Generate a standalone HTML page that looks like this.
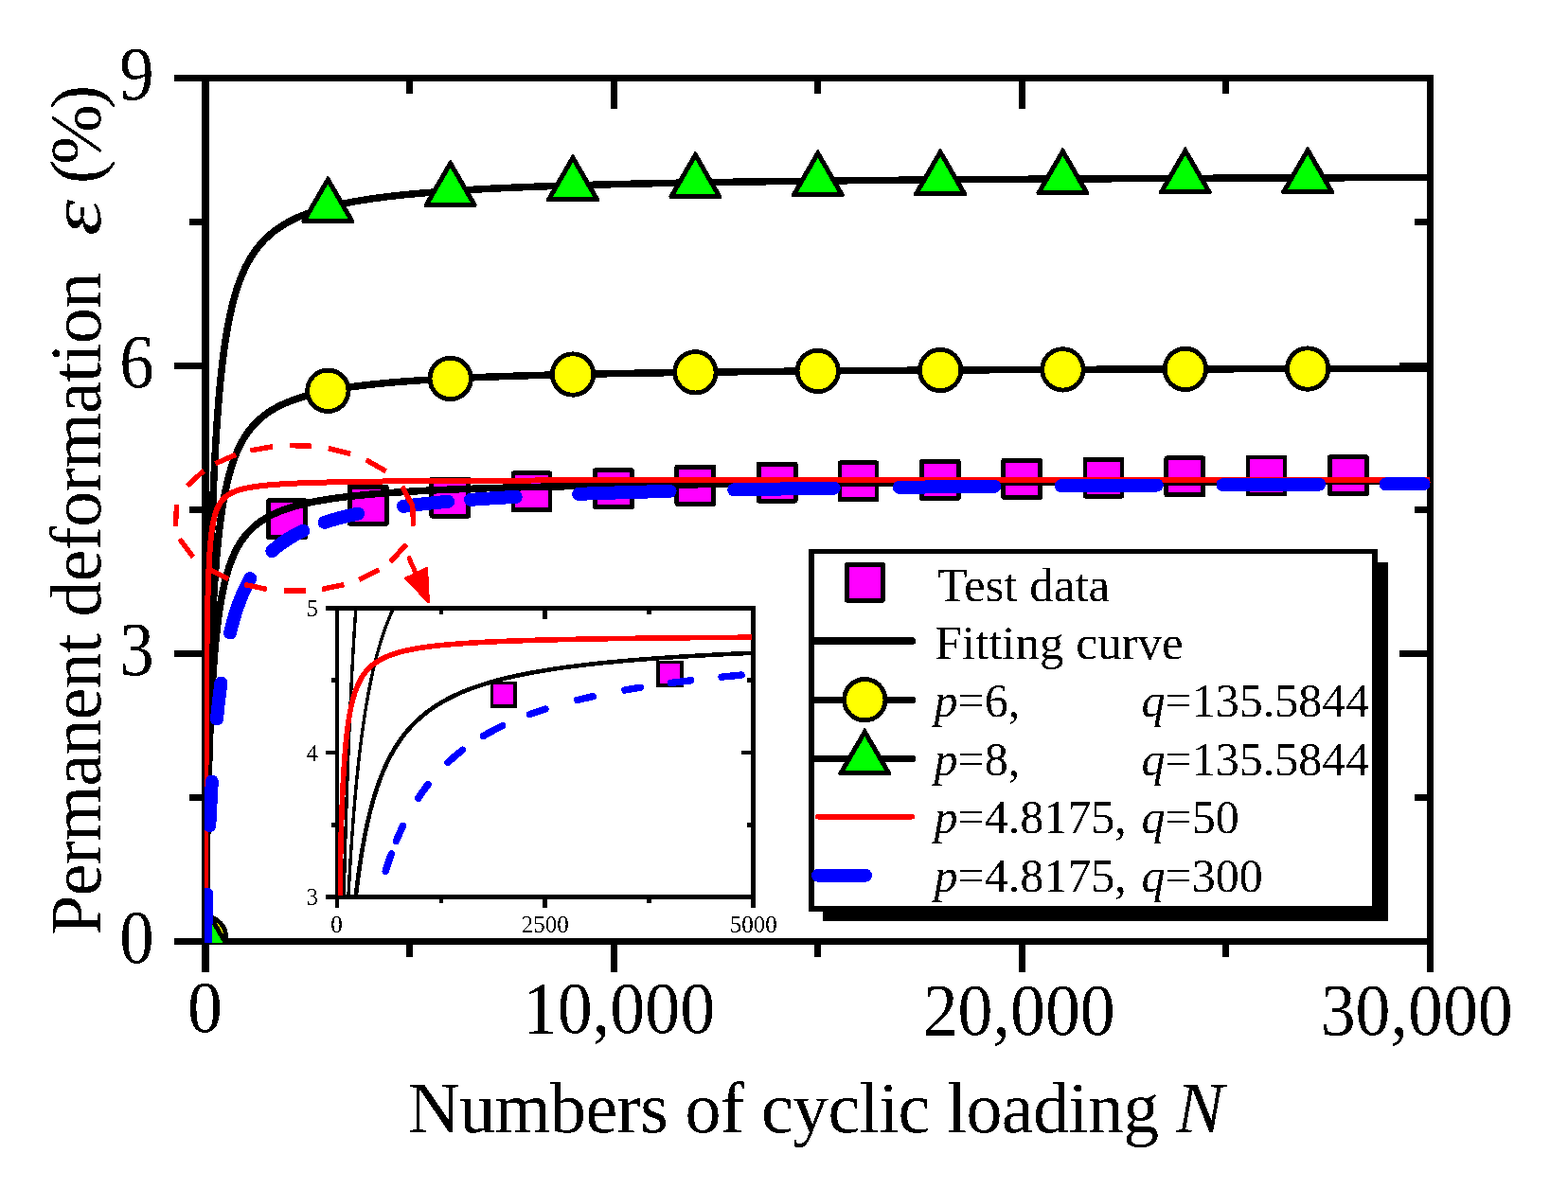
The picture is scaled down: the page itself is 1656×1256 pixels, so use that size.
<!DOCTYPE html><html><head><meta charset="utf-8"><title>Permanent deformation chart</title>
<style>html,body{margin:0;padding:0;background:#fff;}svg{display:block;}text{font-family:"Liberation Serif","Times New Roman",serif;fill:#000;filter:url(#bin);}</style></head><body>
<svg shape-rendering="crispEdges" width="1656" height="1256" viewBox="0 0 1656 1256">
<rect x="0" y="0" width="1656" height="1256" fill="#fff"/>
<defs><clipPath id="cm"><rect x="216" y="79" width="1295" height="917"/></clipPath><clipPath id="ci"><rect x="357" y="644" width="437" height="302"/></clipPath><filter id="bin" filterUnits="userSpaceOnUse" x="-3000" y="-3000" width="8000" height="8000" color-interpolation-filters="sRGB"><feComponentTransfer><feFuncA type="discrete" tableValues="0 1"/></feComponentTransfer></filter></defs>
<line x1="184.0" y1="82.5" x2="1514.0" y2="82.5" stroke="#000" stroke-width="7"/><line x1="184.0" y1="994.5" x2="1514.0" y2="994.5" stroke="#000" stroke-width="7"/><line x1="217" y1="79" x2="217" y2="1027" stroke="#000" stroke-width="8"/><line x1="1510.5" y1="79" x2="1510.5" y2="1027" stroke="#000" stroke-width="7"/><line x1="200.0" y1="842.50" x2="213" y2="842.50" stroke="#000" stroke-width="7"/><line x1="1507" y1="842.50" x2="1494.0" y2="842.50" stroke="#000" stroke-width="7"/><line x1="184.0" y1="690.50" x2="213" y2="690.50" stroke="#000" stroke-width="7"/><line x1="1507" y1="690.50" x2="1478.0" y2="690.50" stroke="#000" stroke-width="7"/><line x1="200.0" y1="538.50" x2="213" y2="538.50" stroke="#000" stroke-width="7"/><line x1="1507" y1="538.50" x2="1494.0" y2="538.50" stroke="#000" stroke-width="7"/><line x1="184.0" y1="386.50" x2="213" y2="386.50" stroke="#000" stroke-width="7"/><line x1="1507" y1="386.50" x2="1478.0" y2="386.50" stroke="#000" stroke-width="7"/><line x1="200.0" y1="234.50" x2="213" y2="234.50" stroke="#000" stroke-width="7"/><line x1="1507" y1="234.50" x2="1494.0" y2="234.50" stroke="#000" stroke-width="7"/><line x1="432.58" y1="998" x2="432.58" y2="1011.0" stroke="#000" stroke-width="7"/><line x1="432.58" y1="86" x2="432.58" y2="99.0" stroke="#000" stroke-width="7"/><line x1="648.17" y1="998" x2="648.17" y2="1027.0" stroke="#000" stroke-width="7"/><line x1="648.17" y1="86" x2="648.17" y2="115.0" stroke="#000" stroke-width="7"/><line x1="863.75" y1="998" x2="863.75" y2="1011.0" stroke="#000" stroke-width="7"/><line x1="863.75" y1="86" x2="863.75" y2="99.0" stroke="#000" stroke-width="7"/><line x1="1079.33" y1="998" x2="1079.33" y2="1027.0" stroke="#000" stroke-width="7"/><line x1="1079.33" y1="86" x2="1079.33" y2="115.0" stroke="#000" stroke-width="7"/><line x1="1294.92" y1="998" x2="1294.92" y2="1011.0" stroke="#000" stroke-width="7"/><line x1="1294.92" y1="86" x2="1294.92" y2="99.0" stroke="#000" stroke-width="7"/>
<g font-size="75">
<text transform="translate(162.6,1017.10) scale(0.97,1.06)" text-anchor="end">0</text>
<text transform="translate(162.6,713.10) scale(0.97,1.06)" text-anchor="end">3</text>
<text transform="translate(162.6,409.10) scale(0.97,1.06)" text-anchor="end">6</text>
<text transform="translate(162.6,105.10) scale(0.97,1.06)" text-anchor="end">9</text>
<text transform="translate(216.4,1090.3) scale(0.985,1.035)" text-anchor="middle">0</text>
<text transform="translate(653.5,1091.3) scale(0.985,1.035)" text-anchor="middle">10,000</text>
<text transform="translate(1076.2,1092.6) scale(0.985,1.035)" text-anchor="middle">20,000</text>
<text transform="translate(1496.2,1092.6) scale(0.985,1.035)" text-anchor="middle">30,000</text>
</g>
<text x="431" y="1196" font-size="76" textLength="861.6" lengthAdjust="spacing">Numbers of cyclic loading <tspan font-style="italic">N</tspan></text>
<text transform="translate(105.7,987.8) rotate(-90)" font-size="76" textLength="700.0" lengthAdjust="spacing">Permanent deformation</text>
<text transform="translate(105.7,249.0) rotate(-90) scale(1.270,1)" font-size="76" font-style="italic">&#949;</text>
<text transform="translate(105.7,194.2) rotate(-90)" font-size="76" textLength="104.4" lengthAdjust="spacing">(%)</text>
<g clip-path="url(#cm)">
<path d="M217.00,994.50 L217.02,992.27 L217.04,989.96 L217.07,987.58 L217.09,985.13 L217.12,982.59 L217.14,979.98 L217.17,977.29 L217.20,974.52 L217.23,971.66 L217.26,968.72 L217.29,965.69 L217.32,962.58 L217.36,959.37 L217.39,956.08 L217.43,952.69 L217.47,949.21 L217.51,945.64 L217.55,941.97 L217.60,938.20 L217.64,934.34 L217.69,930.38 L217.74,926.32 L217.79,922.17 L217.84,917.91 L217.90,913.56 L217.96,909.10 L218.02,904.55 L218.08,899.90 L218.14,895.15 L218.21,890.30 L218.28,885.36 L218.35,880.32 L218.43,875.18 L218.51,869.95 L218.59,864.63 L218.67,859.22 L218.76,853.73 L218.85,848.14 L218.95,842.48 L219.05,836.73 L219.15,830.90 L219.26,825.00 L219.37,819.03 L219.49,812.98 L219.61,806.88 L219.74,800.71 L219.87,794.48 L220.00,788.20 L220.14,781.87 L220.29,775.50 L220.44,769.08 L220.60,762.63 L220.77,756.15 L220.94,749.64 L221.12,743.11 L221.31,736.56 L221.50,730.00 L221.70,723.44 L221.91,716.87 L222.13,710.31 L222.36,703.75 L222.59,697.21 L222.84,690.69 L223.09,684.19 L223.36,677.72 L223.63,671.28 L223.92,664.88 L224.22,658.52 L224.53,652.21 L224.85,645.95 L225.19,639.75 L225.54,633.60 L225.90,627.52 L226.28,621.50 L226.67,615.55 L227.08,609.68 L227.50,603.88 L227.95,598.16 L228.41,592.52 L228.88,586.97 L229.38,581.51 L229.90,576.13 L230.44,570.84 L230.99,565.65 L231.58,560.55 L232.18,555.55 L232.81,550.64 L233.46,545.83 L234.14,541.11 L234.85,536.50 L235.59,531.98 L236.35,527.57 L237.15,523.25 L237.97,519.03 L238.83,514.91 L239.73,510.89 L240.66,506.96 L241.63,503.14 L242.63,499.41 L243.68,495.77 L244.77,492.23 L245.90,488.79 L247.08,485.44 L248.30,482.17 L249.58,479.00 L250.90,475.92 L252.28,472.92 L253.71,470.01 L255.20,467.19 L256.75,464.45 L258.37,461.79 L260.04,459.20 L261.78,456.70 L263.60,454.27 L265.48,451.92 L267.44,449.64 L269.48,447.44 L271.60,445.30 L273.81,443.23 L276.10,441.22 L278.49,439.29 L280.97,437.41 L283.55,435.60 L286.23,433.84 L289.03,432.14 L291.93,430.50 L294.95,428.92 L298.09,427.39 L301.35,425.91 L304.75,424.48 L308.28,423.10 L311.95,421.76 L315.77,420.48 L319.74,419.23 L323.87,418.03 L328.17,416.87 L332.64,415.76 L337.29,414.68 L342.12,413.64 L347.15,412.64 L352.37,411.67 L357.81,410.74 L363.46,409.84 L369.34,408.97 L375.46,408.13 L381.82,407.33 L388.43,406.55 L395.31,405.80 L402.47,405.08 L409.91,404.38 L417.64,403.71 L425.69,403.07 L434.06,402.45 L442.76,401.85 L451.82,401.27 L461.23,400.71 L471.02,400.18 L481.20,399.66 L491.79,399.17 L502.81,398.69 L514.26,398.23 L526.17,397.78 L538.56,397.36 L551.44,396.95 L564.84,396.55 L578.78,396.17 L593.27,395.80 L608.34,395.45 L624.02,395.11 L640.32,394.78 L657.28,394.47 L674.91,394.16 L693.25,393.87 L712.32,393.59 L732.15,393.32 L752.78,393.06 L774.23,392.81 L796.54,392.57 L819.75,392.34 L843.88,392.12 L868.97,391.90 L895.08,391.70 L922.22,391.50 L950.45,391.31 L979.81,391.12 L1010.34,390.95 L1042.10,390.78 L1075.12,390.61 L1109.47,390.46 L1145.19,390.31 L1182.34,390.16 L1220.98,390.02 L1261.16,389.89 L1302.94,389.76 L1346.40,389.63 L1391.60,389.51 L1438.61,389.40 L1487.49,389.28 L1510.50,389.24" fill="none" stroke="#000" stroke-width="7.5" stroke-linejoin="round"/>
<circle cx="217.04" cy="990.05" r="21.70" fill="#ffff00" stroke="#000" stroke-width="4.85"/>
<circle cx="346.35" cy="412.79" r="21.70" fill="#ffff00" stroke="#000" stroke-width="4.85"/>
<circle cx="475.70" cy="399.94" r="21.70" fill="#ffff00" stroke="#000" stroke-width="4.85"/>
<circle cx="605.05" cy="395.52" r="21.70" fill="#ffff00" stroke="#000" stroke-width="4.85"/>
<circle cx="734.40" cy="393.29" r="21.70" fill="#ffff00" stroke="#000" stroke-width="4.85"/>
<circle cx="863.75" cy="391.95" r="21.70" fill="#ffff00" stroke="#000" stroke-width="4.85"/>
<circle cx="993.10" cy="391.05" r="21.70" fill="#ffff00" stroke="#000" stroke-width="4.85"/>
<circle cx="1122.45" cy="390.40" r="21.70" fill="#ffff00" stroke="#000" stroke-width="4.85"/>
<circle cx="1251.80" cy="389.92" r="21.70" fill="#ffff00" stroke="#000" stroke-width="4.85"/>
<circle cx="1381.15" cy="389.54" r="21.70" fill="#ffff00" stroke="#000" stroke-width="4.85"/>
<path d="M217.00,994.50 L217.02,991.52 L217.04,988.45 L217.07,985.27 L217.09,982.00 L217.12,978.62 L217.14,975.14 L217.17,971.56 L217.20,967.86 L217.23,964.05 L217.26,960.13 L217.29,956.09 L217.32,951.94 L217.36,947.67 L217.39,943.27 L217.43,938.76 L217.47,934.11 L217.51,929.35 L217.55,924.46 L217.60,919.44 L217.64,914.29 L217.69,909.01 L217.74,903.60 L217.79,898.05 L217.84,892.38 L217.90,886.57 L217.96,880.64 L218.02,874.57 L218.08,868.36 L218.14,862.03 L218.21,855.57 L218.28,848.98 L218.35,842.26 L218.43,835.41 L218.51,828.44 L218.59,821.35 L218.67,814.13 L218.76,806.80 L218.85,799.36 L218.95,791.80 L219.05,784.14 L219.15,776.37 L219.26,768.50 L219.37,760.53 L219.49,752.48 L219.61,744.33 L219.74,736.11 L219.87,727.81 L220.00,719.43 L220.14,710.99 L220.29,702.50 L220.44,693.94 L220.60,685.34 L220.77,676.70 L220.94,668.02 L221.12,659.31 L221.31,650.58 L221.50,641.84 L221.70,633.09 L221.91,624.33 L222.13,615.58 L222.36,606.84 L222.59,598.12 L222.84,589.42 L223.09,580.76 L223.36,572.13 L223.63,563.54 L223.92,555.01 L224.22,546.53 L224.53,538.12 L224.85,529.77 L225.19,521.49 L225.54,513.30 L225.90,505.19 L226.28,497.16 L226.67,489.23 L227.08,481.40 L227.50,473.67 L227.95,466.05 L228.41,458.53 L228.88,451.13 L229.38,443.84 L229.90,436.67 L230.44,429.62 L230.99,422.70 L231.58,415.90 L232.18,409.23 L232.81,402.68 L233.46,396.27 L234.14,389.98 L234.85,383.83 L235.59,377.81 L236.35,371.92 L237.15,366.16 L237.97,360.54 L238.83,355.04 L239.73,349.68 L240.66,344.45 L241.63,339.35 L242.63,334.38 L243.68,329.53 L244.77,324.81 L245.90,320.22 L247.08,315.75 L248.30,311.40 L249.58,307.17 L250.90,303.06 L252.28,299.07 L253.71,295.19 L255.20,291.42 L256.75,287.76 L258.37,284.21 L260.04,280.77 L261.78,277.44 L263.60,274.20 L265.48,271.06 L267.44,268.02 L269.48,265.08 L271.60,262.23 L273.81,259.47 L276.10,256.80 L278.49,254.21 L280.97,251.71 L283.55,249.29 L286.23,246.95 L289.03,244.69 L291.93,242.50 L294.95,240.39 L298.09,238.35 L301.35,236.38 L304.75,234.47 L308.28,232.63 L311.95,230.85 L315.77,229.13 L319.74,227.48 L323.87,225.88 L328.17,224.33 L332.64,222.84 L337.29,221.41 L342.12,220.02 L347.15,218.68 L352.37,217.39 L357.81,216.15 L363.46,214.95 L369.34,213.79 L375.46,212.68 L381.82,211.60 L388.43,210.57 L395.31,209.57 L402.47,208.61 L409.91,207.68 L417.64,206.78 L425.69,205.92 L434.06,205.09 L442.76,204.29 L451.82,203.53 L461.23,202.78 L471.02,202.07 L481.20,201.38 L491.79,200.72 L502.81,200.08 L514.26,199.47 L526.17,198.88 L538.56,198.31 L551.44,197.76 L564.84,197.23 L578.78,196.72 L593.27,196.24 L608.34,195.76 L624.02,195.31 L640.32,194.88 L657.28,194.46 L674.91,194.05 L693.25,193.66 L712.32,193.29 L732.15,192.93 L752.78,192.58 L774.23,192.25 L796.54,191.93 L819.75,191.62 L843.88,191.32 L868.97,191.04 L895.08,190.76 L922.22,190.50 L950.45,190.24 L979.81,190.00 L1010.34,189.76 L1042.10,189.54 L1075.12,189.32 L1109.47,189.11 L1145.19,188.91 L1182.34,188.71 L1220.98,188.53 L1261.16,188.35 L1302.94,188.17 L1346.40,188.01 L1391.60,187.85 L1438.61,187.69 L1487.49,187.55 L1510.50,187.48" fill="none" stroke="#000" stroke-width="7.5" stroke-linejoin="round"/>
<polygon points="216.44,955.36 217.64,955.36 245.04,1002.76 244.64,1005.36 189.44,1005.36 189.04,1002.76" fill="#000"/><polygon points="217.04,964.26 238.04,1000.56 196.04,1000.56" fill="#00ff00"/>
<polygon points="345.75,185.69 346.95,185.69 374.35,233.09 373.95,235.69 318.75,235.69 318.35,233.09" fill="#000"/><polygon points="346.35,194.59 367.35,230.89 325.35,230.89" fill="#00ff00"/>
<polygon points="475.10,168.55 476.30,168.55 503.70,215.95 503.30,218.55 448.10,218.55 447.70,215.95" fill="#000"/><polygon points="475.70,177.45 496.70,213.75 454.70,213.75" fill="#00ff00"/>
<polygon points="604.45,162.66 605.65,162.66 633.05,210.06 632.65,212.66 577.45,212.66 577.05,210.06" fill="#000"/><polygon points="605.05,171.56 626.05,207.86 584.05,207.86" fill="#00ff00"/>
<polygon points="733.80,159.69 735.00,159.69 762.40,207.09 762.00,209.69 706.80,209.69 706.40,207.09" fill="#000"/><polygon points="734.40,168.59 755.40,204.89 713.40,204.89" fill="#00ff00"/>
<polygon points="863.15,157.90 864.35,157.90 891.75,205.30 891.35,207.90 836.15,207.90 835.75,205.30" fill="#000"/><polygon points="863.75,166.80 884.75,203.10 842.75,203.10" fill="#00ff00"/>
<polygon points="992.50,156.69 993.70,156.69 1021.10,204.09 1020.70,206.69 965.50,206.69 965.10,204.09" fill="#000"/><polygon points="993.10,165.59 1014.10,201.89 972.10,201.89" fill="#00ff00"/>
<polygon points="1121.85,155.83 1123.05,155.83 1150.45,203.23 1150.05,205.83 1094.85,205.83 1094.45,203.23" fill="#000"/><polygon points="1122.45,164.73 1143.45,201.03 1101.45,201.03" fill="#00ff00"/>
<polygon points="1251.20,155.19 1252.40,155.19 1279.80,202.59 1279.40,205.19 1224.20,205.19 1223.80,202.59" fill="#000"/><polygon points="1251.80,164.09 1272.80,200.39 1230.80,200.39" fill="#00ff00"/>
<polygon points="1380.55,154.68 1381.75,154.68 1409.15,202.08 1408.75,204.68 1353.55,204.68 1353.15,202.08" fill="#000"/><polygon points="1381.15,163.58 1402.15,199.88 1360.15,199.88" fill="#00ff00"/>
<rect x="283.60" y="528.80" width="39.00" height="39.00" fill="#ff00ff" stroke="#000" stroke-width="4.85" stroke-linejoin="round"/>
<rect x="369.30" y="514.30" width="39.00" height="39.00" fill="#ff00ff" stroke="#000" stroke-width="4.85" stroke-linejoin="round"/>
<rect x="455.90" y="506.10" width="39.00" height="39.00" fill="#ff00ff" stroke="#000" stroke-width="4.85" stroke-linejoin="round"/>
<rect x="542.00" y="499.90" width="39.00" height="39.00" fill="#ff00ff" stroke="#000" stroke-width="4.85" stroke-linejoin="round"/>
<rect x="628.40" y="496.70" width="39.00" height="39.00" fill="#ff00ff" stroke="#000" stroke-width="4.85" stroke-linejoin="round"/>
<rect x="714.90" y="493.40" width="39.00" height="39.00" fill="#ff00ff" stroke="#000" stroke-width="4.85" stroke-linejoin="round"/>
<rect x="801.10" y="490.20" width="39.00" height="39.00" fill="#ff00ff" stroke="#000" stroke-width="4.85" stroke-linejoin="round"/>
<rect x="887.00" y="488.80" width="39.00" height="39.00" fill="#ff00ff" stroke="#000" stroke-width="4.85" stroke-linejoin="round"/>
<rect x="973.20" y="487.40" width="39.00" height="39.00" fill="#ff00ff" stroke="#000" stroke-width="4.85" stroke-linejoin="round"/>
<rect x="1059.70" y="486.40" width="39.00" height="39.00" fill="#ff00ff" stroke="#000" stroke-width="4.85" stroke-linejoin="round"/>
<rect x="1146.00" y="485.20" width="39.00" height="39.00" fill="#ff00ff" stroke="#000" stroke-width="4.85" stroke-linejoin="round"/>
<rect x="1231.90" y="483.80" width="39.00" height="39.00" fill="#ff00ff" stroke="#000" stroke-width="4.85" stroke-linejoin="round"/>
<rect x="1318.00" y="483.00" width="39.00" height="39.00" fill="#ff00ff" stroke="#000" stroke-width="4.85" stroke-linejoin="round"/>
<rect x="1404.50" y="482.80" width="39.00" height="39.00" fill="#ff00ff" stroke="#000" stroke-width="4.85" stroke-linejoin="round"/>
<path d="M217.00,994.50 L217.02,992.71 L217.04,990.85 L217.07,988.94 L217.09,986.97 L217.12,984.94 L217.14,982.84 L217.17,980.68 L217.20,978.46 L217.23,976.16 L217.26,973.80 L217.29,971.37 L217.32,968.87 L217.36,966.30 L217.39,963.65 L217.43,960.93 L217.47,958.14 L217.51,955.27 L217.55,952.32 L217.60,949.30 L217.64,946.20 L217.69,943.02 L217.74,939.76 L217.79,936.42 L217.84,933.00 L217.90,929.51 L217.96,925.93 L218.02,922.28 L218.08,918.54 L218.14,914.73 L218.21,910.84 L218.28,906.87 L218.35,902.82 L218.43,898.70 L218.51,894.50 L218.59,890.23 L218.67,885.88 L218.76,881.47 L218.85,876.99 L218.95,872.44 L219.05,867.82 L219.15,863.14 L219.26,858.41 L219.37,853.61 L219.49,848.76 L219.61,843.85 L219.74,838.90 L219.87,833.90 L220.00,828.86 L220.14,823.78 L220.29,818.66 L220.44,813.51 L220.60,808.33 L220.77,803.12 L220.94,797.90 L221.12,792.65 L221.31,787.40 L221.50,782.13 L221.70,776.86 L221.91,771.59 L222.13,766.32 L222.36,761.06 L222.59,755.80 L222.84,750.57 L223.09,745.35 L223.36,740.15 L223.63,734.98 L223.92,729.84 L224.22,724.74 L224.53,719.67 L224.85,714.64 L225.19,709.66 L225.54,704.73 L225.90,699.84 L226.28,695.01 L226.67,690.24 L227.08,685.52 L227.50,680.86 L227.95,676.27 L228.41,671.75 L228.88,667.29 L229.38,662.90 L229.90,658.58 L230.44,654.34 L230.99,650.17 L231.58,646.07 L232.18,642.06 L232.81,638.12 L233.46,634.25 L234.14,630.47 L234.85,626.76 L235.59,623.14 L236.35,619.59 L237.15,616.12 L237.97,612.74 L238.83,609.43 L239.73,606.20 L240.66,603.05 L241.63,599.98 L242.63,596.98 L243.68,594.06 L244.77,591.22 L245.90,588.46 L247.08,585.76 L248.30,583.14 L249.58,580.60 L250.90,578.12 L252.28,575.72 L253.71,573.38 L255.20,571.11 L256.75,568.91 L258.37,566.78 L260.04,564.70 L261.78,562.69 L263.60,560.74 L265.48,558.86 L267.44,557.03 L269.48,555.25 L271.60,553.54 L273.81,551.87 L276.10,550.27 L278.49,548.71 L280.97,547.20 L283.55,545.75 L286.23,544.34 L289.03,542.97 L291.93,541.66 L294.95,540.39 L298.09,539.16 L301.35,537.97 L304.75,536.82 L308.28,535.71 L311.95,534.64 L315.77,533.61 L319.74,532.61 L323.87,531.64 L328.17,530.72 L332.64,529.82 L337.29,528.95 L342.12,528.12 L347.15,527.31 L352.37,526.54 L357.81,525.79 L363.46,525.06 L369.34,524.37 L375.46,523.70 L381.82,523.05 L388.43,522.42 L395.31,521.82 L402.47,521.24 L409.91,520.69 L417.64,520.15 L425.69,519.63 L434.06,519.13 L442.76,518.65 L451.82,518.18 L461.23,517.74 L471.02,517.31 L481.20,516.89 L491.79,516.50 L502.81,516.11 L514.26,515.74 L526.17,515.39 L538.56,515.04 L551.44,514.71 L564.84,514.40 L578.78,514.09 L593.27,513.80 L608.34,513.51 L624.02,513.24 L640.32,512.98 L657.28,512.72 L674.91,512.48 L693.25,512.25 L712.32,512.02 L732.15,511.80 L752.78,511.60 L774.23,511.39 L796.54,511.20 L819.75,511.02 L843.88,510.84 L868.97,510.66 L895.08,510.50 L922.22,510.34 L950.45,510.19 L979.81,510.04 L1010.34,509.90 L1042.10,509.76 L1075.12,509.63 L1109.47,509.50 L1145.19,509.38 L1182.34,509.27 L1220.98,509.15 L1261.16,509.04 L1302.94,508.94 L1346.40,508.84 L1391.60,508.74 L1438.61,508.65 L1487.49,508.56 L1510.50,508.52" fill="none" stroke="#000" stroke-width="7.5" stroke-linejoin="round"/>
<path d="M217.00,994.50 L217.02,982.30 L217.04,970.23 L217.07,958.32 L217.09,946.57 L217.12,934.97 L217.14,923.54 L217.17,912.29 L217.20,901.21 L217.23,890.31 L217.26,879.59 L217.29,869.06 L217.32,858.73 L217.36,848.59 L217.39,838.64 L217.43,828.89 L217.47,819.34 L217.51,809.99 L217.55,800.84 L217.60,791.89 L217.64,783.14 L217.69,774.59 L217.74,766.25 L217.79,758.10 L217.84,750.16 L217.90,742.41 L217.96,734.85 L218.02,727.49 L218.08,720.32 L218.14,713.35 L218.21,706.56 L218.28,699.95 L218.35,693.53 L218.43,687.29 L218.51,681.22 L218.59,675.33 L218.67,669.61 L218.76,664.06 L218.85,658.67 L218.95,653.45 L219.05,648.38 L219.15,643.47 L219.26,638.71 L219.37,634.09 L219.49,629.62 L219.61,625.30 L219.74,621.11 L219.87,617.05 L220.00,613.13 L220.14,609.33 L220.29,605.66 L220.44,602.11 L220.60,598.67 L220.77,595.35 L220.94,592.15 L221.12,589.05 L221.31,586.05 L221.50,583.16 L221.70,580.36 L221.91,577.67 L222.13,575.06 L222.36,572.55 L222.59,570.12 L222.84,567.78 L223.09,565.52 L223.36,563.33 L223.63,561.23 L223.92,559.20 L224.22,557.24 L224.53,555.36 L224.85,553.54 L225.19,551.78 L225.54,550.09 L225.90,548.46 L226.28,546.89 L226.67,545.37 L227.08,543.91 L227.50,542.50 L227.95,541.15 L228.41,539.84 L228.88,538.58 L229.38,537.37 L229.90,536.20 L230.44,535.08 L230.99,533.99 L231.58,532.95 L232.18,531.95 L232.81,530.98 L233.46,530.05 L234.14,529.15 L234.85,528.29 L235.59,527.45 L236.35,526.65 L237.15,525.88 L237.97,525.14 L238.83,524.43 L239.73,523.74 L240.66,523.08 L241.63,522.44 L242.63,521.83 L243.68,521.24 L244.77,520.67 L245.90,520.13 L247.08,519.60 L248.30,519.10 L249.58,518.61 L250.90,518.14 L252.28,517.69 L253.71,517.26 L255.20,516.84 L256.75,516.44 L258.37,516.05 L260.04,515.68 L261.78,515.32 L263.60,514.98 L265.48,514.65 L267.44,514.33 L269.48,514.02 L271.60,513.73 L273.81,513.45 L276.10,513.17 L278.49,512.91 L280.97,512.66 L283.55,512.42 L286.23,512.18 L289.03,511.96 L291.93,511.74 L294.95,511.54 L298.09,511.34 L301.35,511.14 L304.75,510.96 L308.28,510.78 L311.95,510.61 L315.77,510.45 L319.74,510.29 L323.87,510.14 L328.17,509.99 L332.64,509.85 L337.29,509.72 L342.12,509.59 L347.15,509.46 L352.37,509.34 L357.81,509.22 L363.46,509.11 L369.34,509.01 L375.46,508.90 L381.82,508.80 L388.43,508.71 L395.31,508.62 L402.47,508.53 L409.91,508.45 L417.64,508.36 L425.69,508.29 L434.06,508.21 L442.76,508.14 L451.82,508.07 L461.23,508.00 L471.02,507.94 L481.20,507.88 L491.79,507.82 L502.81,507.76 L514.26,507.70 L526.17,507.65 L538.56,507.60 L551.44,507.55 L564.84,507.50 L578.78,507.46 L593.27,507.42 L608.34,507.37 L624.02,507.33 L640.32,507.29 L657.28,507.26 L674.91,507.22 L693.25,507.19 L712.32,507.15 L732.15,507.12 L752.78,507.09 L774.23,507.06 L796.54,507.03 L819.75,507.01 L843.88,506.98 L868.97,506.96 L895.08,506.93 L922.22,506.91 L950.45,506.89 L979.81,506.86 L1010.34,506.84 L1042.10,506.82 L1075.12,506.80 L1109.47,506.79 L1145.19,506.77 L1182.34,506.75 L1220.98,506.74 L1261.16,506.72 L1302.94,506.70 L1346.40,506.69 L1391.60,506.68 L1438.61,506.66 L1487.49,506.65 L1510.50,506.64" fill="none" stroke="#ff0000" stroke-width="6" stroke-linejoin="round"/>
<path d="M217.00,994.50 L217.02,993.69 L217.04,992.85 L217.07,991.97 L217.09,991.07 L217.12,990.13 L217.14,989.16 L217.17,988.16 L217.20,987.12 L217.23,986.04 L217.26,984.92 L217.29,983.77 L217.32,982.57 L217.36,981.34 L217.39,980.06 L217.43,978.73 L217.47,977.37 L217.51,975.95 L217.55,974.49 L217.60,972.98 L217.64,971.42 L217.69,969.80 L217.74,968.14 L217.79,966.42 L217.84,964.65 L217.90,962.82 L217.96,960.93 L218.02,958.98 L218.08,956.97 L218.14,954.90 L218.21,952.77 L218.28,950.57 L218.35,948.31 L218.43,945.98 L218.47,944.60 M221.33,872.01 L221.50,868.47 L221.70,864.33 L221.91,860.13 L222.13,855.86 L222.36,851.52 L222.59,847.13 L222.84,842.68 L223.09,838.17 L223.36,833.61 L223.63,828.99 L223.85,825.49 M229.02,759.43 L229.38,755.76 L229.90,750.77 L230.44,745.78 L230.99,740.81 L231.58,735.86 L232.18,730.92 L232.81,726.01 L233.41,721.53 M243.01,668.48 L243.68,665.72 L244.77,661.46 L245.90,657.26 L247.08,653.13 L248.30,649.06 L249.58,645.07 L250.90,641.14 L252.28,637.29 L253.71,633.51 L255.20,629.81 L256.75,626.17 L258.37,622.62 L260.04,619.13 L261.78,615.73 L263.60,612.40 L264.24,611.28 M287.32,582.19 L289.03,580.65 L291.93,578.19 L294.95,575.81 L298.09,573.49 L301.35,571.23 L304.75,569.04 L308.28,566.92 L311.95,564.86 L315.77,562.86 L319.74,560.91 L320.30,560.66 M342.72,551.88 L347.15,550.46 L352.37,548.90 L357.81,547.40 L363.46,545.94 L369.34,544.53 L375.46,543.17 L378.14,542.61 M426.04,534.78 L434.06,533.78 L442.76,532.78 L451.82,531.81 L461.23,530.88 L471.02,529.98 L473.13,529.80 M497.08,527.88 L502.81,527.46 L514.26,526.68 L526.17,525.93 L538.56,525.20 L544.71,524.87 M611.19,521.84 L624.02,521.36 L640.32,520.80 L657.28,520.26 L674.91,519.74 L693.25,519.24 L707.60,518.87 M775.20,517.38 L796.54,516.98 L819.75,516.58 L843.88,516.20 L868.97,515.82 L880.80,515.66 M949.90,514.79 L950.45,514.79 L979.81,514.47 L1010.34,514.16 L1042.10,513.86 L1050.30,513.79 M1120.90,513.22 L1145.19,513.04 L1182.34,512.78 L1220.98,512.54 L1221.70,512.53 M1291.50,512.14 L1302.94,512.07 L1346.40,511.85 L1391.60,511.64 L1393.10,511.64 M1463.60,511.34 L1487.49,511.25 L1503.50,511.19" fill="none" stroke="#0000ff" stroke-width="14" stroke-linecap="round" stroke-linejoin="round"/>
</g>
<path d="M197.57,513.41 L215.20,497.22 M227.26,489.78 L249.26,480.29 M264.32,475.93 L287.93,471.79 M305.97,470.56 L328.92,471.28 M346.83,473.65 L370.09,479.42 M386.75,485.83 L407.53,497.74 M424.78,513.85 L435.60,534.21 L436.80,555.59 M429.13,575.05 L412.41,593.53 M400.52,601.90 L379.01,612.43 M363.42,617.58 L339.96,622.46 M323.03,624.15 L300.06,624.21 M281.76,622.42 L258.31,617.50 M241.17,611.70 L219.81,600.86 M203.97,588.54 L189.69,569.34 M185.30,556.12 L186.69,533.25" fill="none" stroke="#ff0000" stroke-width="5.5" stroke-linecap="butt"/>
<line x1="432.1" y1="589.7" x2="442.5" y2="613.5" stroke="#ff0000" stroke-width="5" stroke-linecap="round"/>
<polygon points="452.7,636.2 428.2,611.0 450.8,600.2" fill="#ff0000" stroke="#ff0000" stroke-width="2.5" stroke-linejoin="round"/>
<rect x="869" y="594" width="597" height="379" fill="#000"/>
<rect x="856.9" y="582.6" width="595.2" height="377.6" fill="#fff" stroke="#000" stroke-width="5.5"/>
<rect x="894.40" y="596.30" width="38.00" height="38.00" fill="#ff00ff" stroke="#000" stroke-width="4.80" stroke-linejoin="round"/>
<path d="M859,677 L963.5,677" stroke="#000" stroke-width="7.5"/><circle cx="963.5" cy="677" r="3.75" fill="#000"/>
<path d="M859,739.3 L963.5,739.3" stroke="#000" stroke-width="7.5"/><circle cx="963.5" cy="739.3" r="3.75" fill="#000"/>
<circle cx="913.30" cy="739.20" r="21.70" fill="#ffff00" stroke="#000" stroke-width="4.85"/>
<path d="M859,801.4 L963.5,801.4" stroke="#000" stroke-width="7.5"/><circle cx="963.5" cy="801.4" r="3.75" fill="#000"/>
<polygon points="912.70,769.10 913.90,769.10 941.30,816.50 940.90,819.10 885.70,819.10 885.30,816.50" fill="#000"/><polygon points="913.30,778.00 934.30,814.30 892.30,814.30" fill="#00ff00"/>
<line x1="863.7" y1="862.8" x2="963.3" y2="862.8" stroke="#ff0000" stroke-width="5.4" stroke-linecap="round"/>
<line x1="864" y1="924.7" x2="914" y2="924.7" stroke="#0000ff" stroke-width="14" stroke-linecap="round"/>
<g font-size="50">
<text x="990.3" y="634.5" font-size="51">Test data</text>
<text x="987.5" y="695.8" font-size="51">Fitting curve</text>
<text x="986.5" y="757.0"><tspan font-style="italic">p</tspan>=6,</text>
<text x="1205.6" y="757.0"><tspan font-style="italic">q</tspan>=135.5844</text>
<text x="986.5" y="818.5"><tspan font-style="italic">p</tspan>=8,</text>
<text x="1205.6" y="818.5"><tspan font-style="italic">q</tspan>=135.5844</text>
<text x="986.5" y="880.0"><tspan font-style="italic">p</tspan>=4.8175,</text>
<text x="1205.6" y="880.0"><tspan font-style="italic">q</tspan>=50</text>
<text x="986.5" y="941.5"><tspan font-style="italic">p</tspan>=4.8175,</text>
<text x="1205.6" y="941.5"><tspan font-style="italic">q</tspan>=300</text>
</g>
<rect x="356" y="642.5" width="439.4" height="305.1" fill="#fff"/>
<rect x="356" y="642.5" width="439.4" height="305.1" fill="none" stroke="#000" stroke-width="4.6"/><line x1="350.0" y1="871.33" x2="354.0" y2="871.33" stroke="#000" stroke-width="4.6"/><line x1="793.0" y1="871.33" x2="789.0" y2="871.33" stroke="#000" stroke-width="4.6"/><line x1="344.0" y1="795.05" x2="354.0" y2="795.05" stroke="#000" stroke-width="4.6"/><line x1="793.0" y1="795.05" x2="783.0" y2="795.05" stroke="#000" stroke-width="4.6"/><line x1="350.0" y1="718.77" x2="354.0" y2="718.77" stroke="#000" stroke-width="4.6"/><line x1="793.0" y1="718.77" x2="789.0" y2="718.77" stroke="#000" stroke-width="4.6"/><line x1="344" y1="947.60" x2="354" y2="947.60" stroke="#000" stroke-width="4.6"/><line x1="344" y1="642.50" x2="354" y2="642.50" stroke="#000" stroke-width="4.6"/><line x1="356.00" y1="950" x2="356.00" y2="959.0" stroke="#000" stroke-width="4.6"/><line x1="465.85" y1="950" x2="465.85" y2="954.0" stroke="#000" stroke-width="4.6"/><line x1="465.85" y1="645" x2="465.85" y2="649.0" stroke="#000" stroke-width="4.6"/><line x1="575.70" y1="950" x2="575.70" y2="959.0" stroke="#000" stroke-width="4.6"/><line x1="575.70" y1="645" x2="575.70" y2="654.0" stroke="#000" stroke-width="4.6"/><line x1="685.55" y1="950" x2="685.55" y2="954.0" stroke="#000" stroke-width="4.6"/><line x1="685.55" y1="645" x2="685.55" y2="649.0" stroke="#000" stroke-width="4.6"/><line x1="795.40" y1="950" x2="795.40" y2="959.0" stroke="#000" stroke-width="4.6"/>
<g font-size="25">
<text x="336" y="956.1" text-anchor="end">3</text>
<text x="336" y="803.5" text-anchor="end">4</text>
<text x="336" y="651.0" text-anchor="end">5</text>
<text x="355.4" y="985" text-anchor="middle">0</text>
<text x="575.7" y="985" text-anchor="middle">2500</text>
<text x="795.8" y="985" text-anchor="middle">5000</text>
</g>
<g clip-path="url(#ci)">
<path d="M356.00,1405.25 L356.04,1400.77 L356.09,1396.14 L356.14,1391.36 L356.19,1386.43 L356.24,1381.35 L356.29,1376.11 L356.35,1370.71 L356.40,1365.14 L356.47,1359.41 L356.53,1353.51 L356.59,1347.43 L356.66,1341.18 L356.73,1334.74 L356.80,1328.13 L356.88,1321.33 L356.96,1314.34 L357.04,1307.17 L357.13,1299.80 L357.22,1292.25 L357.31,1284.49 L357.40,1276.55 L357.50,1268.40 L357.61,1260.06 L357.72,1251.52 L357.83,1242.77 L357.95,1233.84 L358.07,1224.70 L358.20,1215.36 L358.33,1205.83 L358.46,1196.10 L358.61,1186.17 L358.76,1176.06 L358.91,1165.75 L359.07,1155.26 L359.24,1144.58 L359.41,1133.72 L359.59,1122.68 L359.78,1111.48 L359.97,1100.10 L360.18,1088.56 L360.39,1076.87 L360.61,1065.02 L360.83,1053.03 L361.07,1040.90 L361.32,1028.64 L361.57,1016.26 L361.84,1003.76 L362.12,991.16 L362.41,978.45 L362.71,965.66 L363.02,952.78 L363.35,939.83 L363.68,926.82 L364.03,913.76 L364.40,900.65 L364.78,887.51 L365.17,874.34 L365.59,861.17 L366.01,847.99 L366.46,834.81 L366.92,821.66 L367.40,808.53 L367.90,795.43 L368.42,782.39 L368.96,769.40 L369.52,756.48 L370.11,743.63 L370.72,730.87 L371.35,718.20 L372.01,705.63 L372.69,693.17 L373.40,680.84 L374.14,668.62 L374.91,656.55 L375.71,644.61 L376.55,632.82 L377.41,621.18 L378.31,609.70 L379.25,598.39 L380.22,587.24 L381.23,576.27 L382.29,565.48 L383.38,554.87 L384.52,544.45 L385.71,534.21 L386.94,524.16 L388.22,514.31 L389.55,504.66 L390.94,495.19 L392.38,485.93 L393.88,476.87 L395.44,468.00 L397.06,459.33 L398.75,450.87 L400.50,442.60 L402.33,434.52 L404.22,426.65 L406.20,418.97 L408.25,411.48 L410.38,404.19 L412.60,397.08 L414.91,390.17 L417.31,383.44 L419.80,376.89 L422.40,370.52 L425.10,364.34 L427.91,358.32 L430.83,352.48 L433.87,346.81 L437.02,341.31 L440.31,335.97 L443.73,330.79 L447.28,325.76 L450.97,320.89 L454.82,316.17 L458.81,311.59 L462.97,307.16 L467.29,302.87 L471.79,298.72 L476.46,294.70 L481.33,290.80 L486.38,287.04 L491.64,283.40 L497.11,279.87 L502.80,276.47 L508.72,273.18 L514.87,269.99 L521.27,266.92 L527.92,263.95 L534.84,261.08 L542.04,258.31 L549.53,255.63 L557.31,253.05 L565.41,250.55 L573.83,248.14 L582.59,245.82 L591.69,243.58 L601.17,241.41 L611.02,239.33 L621.26,237.31 L631.91,235.37 L643.00,233.50 L654.52,231.69 L666.50,229.95 L678.97,228.27 L691.93,226.65 L705.41,225.09 L719.43,223.59 L734.01,222.14 L749.18,220.75 L764.95,219.40 L781.35,218.10 L795.40,217.07" fill="none" stroke="#000" stroke-width="3.4"/>
<path d="M356.00,1405.25 L356.04,1401.89 L356.09,1398.42 L356.14,1394.83 L356.19,1391.14 L356.24,1387.33 L356.29,1383.40 L356.35,1379.34 L356.40,1375.17 L356.47,1370.87 L356.53,1366.44 L356.59,1361.89 L356.66,1357.19 L356.73,1352.37 L356.80,1347.41 L356.88,1342.31 L356.96,1337.07 L357.04,1331.69 L357.13,1326.17 L357.22,1320.50 L357.31,1314.68 L357.40,1308.72 L357.50,1302.61 L357.61,1296.36 L357.72,1289.95 L357.83,1283.39 L357.95,1276.69 L358.07,1269.84 L358.20,1262.83 L358.33,1255.68 L358.46,1248.39 L358.61,1240.94 L358.76,1233.35 L358.91,1225.63 L359.07,1217.75 L359.24,1209.75 L359.41,1201.60 L359.59,1193.33 L359.78,1184.92 L359.97,1176.39 L360.18,1167.73 L360.39,1158.96 L360.61,1150.08 L360.83,1141.09 L361.07,1131.99 L361.32,1122.80 L361.57,1113.51 L361.84,1104.13 L362.12,1094.68 L362.41,1085.15 L362.71,1075.56 L363.02,1065.90 L363.35,1056.19 L363.68,1046.43 L364.03,1036.63 L364.40,1026.80 L364.78,1016.94 L365.17,1007.07 L365.59,997.19 L366.01,987.30 L366.46,977.42 L366.92,967.55 L367.40,957.71 L367.90,947.89 L368.42,938.10 L368.96,928.36 L369.52,918.67 L370.11,909.03 L370.72,899.46 L371.35,889.96 L372.01,880.53 L372.69,871.19 L373.40,861.94 L374.14,852.78 L374.91,843.72 L375.71,834.77 L376.55,825.93 L377.41,817.20 L378.31,808.59 L379.25,800.10 L380.22,791.75 L381.23,783.52 L382.29,775.42 L383.38,767.47 L384.52,759.65 L385.71,751.97 L386.94,744.44 L388.22,737.05 L389.55,729.80 L390.94,722.71 L392.38,715.76 L393.88,708.96 L395.44,702.31 L397.06,695.81 L398.75,689.46 L400.50,683.26 L402.33,677.21 L404.22,671.30 L406.20,665.54 L408.25,659.92 L410.38,654.45 L412.60,649.12 L414.91,643.94 L417.31,638.89 L419.80,633.98 L422.40,629.21 L425.10,624.56 L427.91,620.06 L430.83,615.67 L433.87,611.42 L437.02,607.29 L440.31,603.29 L443.73,599.40 L447.28,595.63 L450.97,591.98 L454.82,588.44 L458.81,585.01 L462.97,581.68 L467.29,578.47 L471.79,575.35 L476.46,572.33 L481.33,569.42 L486.38,566.59 L491.64,563.86 L497.11,561.22 L502.80,558.66 L508.72,556.19 L514.87,553.81 L521.27,551.50 L527.92,549.27 L534.84,547.12 L542.04,545.04 L549.53,543.04 L557.31,541.10 L565.41,539.23 L573.83,537.42 L582.59,535.68 L591.69,534.00 L601.17,532.37 L611.02,530.81 L621.26,529.30 L631.91,527.84 L643.00,526.44 L654.52,525.08 L666.50,523.78 L678.97,522.52 L691.93,521.30 L705.41,520.13 L719.43,519.01 L734.01,517.92 L749.18,516.87 L764.95,515.86 L781.35,514.89 L795.40,514.11" fill="none" stroke="#000" stroke-width="3.4"/>
<rect x="519.60" y="721.60" width="24.80" height="24.80" fill="#ff00ff" stroke="#000" stroke-width="3.8"/>
<rect x="695.20" y="699.60" width="24.80" height="24.80" fill="#ff00ff" stroke="#000" stroke-width="3.8"/>
<path d="M356.00,1405.25 L356.04,1402.55 L356.09,1399.76 L356.14,1396.89 L356.19,1393.92 L356.24,1390.86 L356.29,1387.70 L356.35,1384.45 L356.40,1381.10 L356.47,1377.65 L356.53,1374.09 L356.59,1370.43 L356.66,1366.67 L356.73,1362.79 L356.80,1358.81 L356.88,1354.71 L356.96,1350.51 L357.04,1346.19 L357.13,1341.75 L357.22,1337.20 L357.31,1332.53 L357.40,1327.75 L357.50,1322.84 L357.61,1317.82 L357.72,1312.67 L357.83,1307.41 L357.95,1302.03 L358.07,1296.52 L358.20,1290.90 L358.33,1285.16 L358.46,1279.30 L358.61,1273.32 L358.76,1267.23 L358.91,1261.03 L359.07,1254.71 L359.24,1248.28 L359.41,1241.74 L359.59,1235.09 L359.78,1228.34 L359.97,1221.49 L360.18,1214.54 L360.39,1207.50 L360.61,1200.37 L360.83,1193.15 L361.07,1185.84 L361.32,1178.46 L361.57,1171.01 L361.84,1163.48 L362.12,1155.89 L362.41,1148.24 L362.71,1140.53 L363.02,1132.78 L363.35,1124.98 L363.68,1117.15 L364.03,1109.28 L364.40,1101.39 L364.78,1093.47 L365.17,1085.55 L365.59,1077.61 L366.01,1069.67 L366.46,1061.74 L366.92,1053.82 L367.40,1045.91 L367.90,1038.03 L368.42,1030.17 L368.96,1022.35 L369.52,1014.57 L370.11,1006.83 L370.72,999.14 L371.35,991.52 L372.01,983.95 L372.69,976.45 L373.40,969.02 L374.14,961.66 L374.91,954.39 L375.71,947.20 L376.55,940.10 L377.41,933.09 L378.31,926.18 L379.25,919.37 L380.22,912.66 L381.23,906.05 L382.29,899.55 L383.38,893.16 L384.52,886.88 L385.71,880.72 L386.94,874.67 L388.22,868.74 L389.55,862.92 L390.94,857.23 L392.38,851.65 L393.88,846.19 L395.44,840.85 L397.06,835.63 L398.75,830.53 L400.50,825.55 L402.33,820.69 L404.22,815.95 L406.20,811.32 L408.25,806.82 L410.38,802.42 L412.60,798.14 L414.91,793.98 L417.31,789.93 L419.80,785.98 L422.40,782.15 L425.10,778.42 L427.91,774.80 L430.83,771.29 L433.87,767.87 L437.02,764.56 L440.31,761.34 L443.73,758.22 L447.28,755.20 L450.97,752.26 L454.82,749.42 L458.81,746.66 L462.97,744.00 L467.29,741.41 L471.79,738.91 L476.46,736.49 L481.33,734.14 L486.38,731.88 L491.64,729.68 L497.11,727.56 L502.80,725.51 L508.72,723.53 L514.87,721.61 L521.27,719.76 L527.92,717.97 L534.84,716.24 L542.04,714.58 L549.53,712.96 L557.31,711.41 L565.41,709.90 L573.83,708.45 L582.59,707.06 L591.69,705.70 L601.17,704.40 L611.02,703.14 L621.26,701.93 L631.91,700.76 L643.00,699.64 L654.52,698.55 L666.50,697.50 L678.97,696.49 L691.93,695.51 L705.41,694.57 L719.43,693.67 L734.01,692.80 L749.18,691.96 L764.95,691.15 L781.35,690.37 L795.40,689.74" fill="none" stroke="#000" stroke-width="4.6"/>
<path d="M356.00,1405.25 L356.04,1386.88 L356.09,1368.72 L356.14,1350.79 L356.19,1333.09 L356.24,1315.63 L356.29,1298.43 L356.35,1281.48 L356.40,1264.80 L356.47,1248.39 L356.53,1232.26 L356.59,1216.42 L356.66,1200.85 L356.73,1185.59 L356.80,1170.61 L356.88,1155.93 L356.96,1141.56 L357.04,1127.48 L357.13,1113.70 L357.22,1100.23 L357.31,1087.06 L357.40,1074.20 L357.50,1061.63 L357.61,1049.37 L357.72,1037.41 L357.83,1025.74 L357.95,1014.37 L358.07,1003.29 L358.20,992.50 L358.33,981.99 L358.46,971.77 L358.61,961.83 L358.76,952.16 L358.91,942.76 L359.07,933.63 L359.24,924.76 L359.41,916.15 L359.59,907.80 L359.78,899.69 L359.97,891.82 L360.18,884.19 L360.39,876.80 L360.61,869.63 L360.83,862.68 L361.07,855.96 L361.32,849.44 L361.57,843.13 L361.84,837.03 L362.12,831.12 L362.41,825.41 L362.71,819.88 L363.02,814.53 L363.35,809.36 L363.68,804.37 L364.03,799.54 L364.40,794.87 L364.78,790.36 L365.17,786.01 L365.59,781.80 L366.01,777.74 L366.46,773.81 L366.92,770.03 L367.40,766.37 L367.90,762.85 L368.42,759.44 L368.96,756.16 L369.52,752.99 L370.11,749.94 L370.72,746.99 L371.35,744.15 L372.01,741.41 L372.69,738.77 L373.40,736.22 L374.14,733.76 L374.91,731.40 L375.71,729.12 L376.55,726.92 L377.41,724.80 L378.31,722.76 L379.25,720.79 L380.22,718.90 L381.23,717.07 L382.29,715.32 L383.38,713.62 L384.52,711.99 L385.71,710.42 L386.94,708.91 L388.22,707.45 L389.55,706.05 L390.94,704.70 L392.38,703.40 L393.88,702.15 L395.44,700.94 L397.06,699.78 L398.75,698.67 L400.50,697.59 L402.33,696.56 L404.22,695.56 L406.20,694.60 L408.25,693.68 L410.38,692.79 L412.60,691.94 L414.91,691.11 L417.31,690.32 L419.80,689.56 L422.40,688.83 L425.10,688.12 L427.91,687.45 L430.83,686.79 L433.87,686.17 L437.02,685.56 L440.31,684.98 L443.73,684.42 L447.28,683.88 L450.97,683.37 L454.82,682.87 L458.81,682.39 L462.97,681.93 L467.29,681.48 L471.79,681.06 L476.46,680.65 L481.33,680.25 L486.38,679.87 L491.64,679.51 L497.11,679.16 L502.80,678.82 L508.72,678.50 L514.87,678.18 L521.27,677.88 L527.92,677.59 L534.84,677.32 L542.04,677.05 L549.53,676.79 L557.31,676.54 L565.41,676.31 L573.83,676.08 L582.59,675.86 L591.69,675.65 L601.17,675.44 L611.02,675.25 L621.26,675.06 L631.91,674.88 L643.00,674.70 L654.52,674.54 L666.50,674.37 L678.97,674.22 L691.93,674.07 L705.41,673.93 L719.43,673.79 L734.01,673.66 L749.18,673.53 L764.95,673.41 L781.35,673.29 L795.40,673.20" fill="none" stroke="#ff0000" stroke-width="5.6"/>
<path d="M407.14,920.36 L408.25,916.81 L410.38,910.29 L412.60,903.88 L413.33,901.88 M418.44,888.57 L419.80,885.22 L422.40,879.20 L425.10,873.30 L425.52,872.43 M441.82,843.09 L443.73,840.16 L447.28,835.03 L450.97,830.02 L452.00,828.71 M473.08,805.44 L476.46,802.30 L481.33,798.07 L486.38,793.95 L488.49,792.34 M510.37,777.57 L514.87,774.94 L521.27,771.45 L527.92,768.05 L530.66,766.75 M559.37,754.70 L565.41,752.52 L573.83,749.68 L575.97,749.01 M609.79,739.51 L611.02,739.20 L621.26,736.78 L626.09,735.72 M660.04,729.00 L666.50,727.86 L676.35,726.24 M708.67,721.47 L719.43,720.05 L729.63,718.79 M762.18,715.14 L764.95,714.85 L781.35,713.23 L783.02,713.08" fill="none" stroke="#0000ff" stroke-width="7.4" stroke-linecap="round" stroke-linejoin="round"/>
</g>
</svg></body></html>
